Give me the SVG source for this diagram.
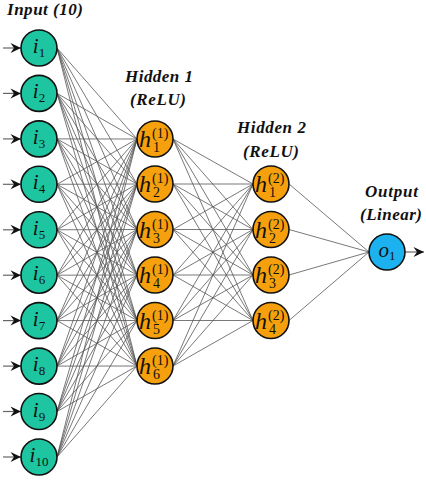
<svg xmlns="http://www.w3.org/2000/svg" width="426" height="480" viewBox="0 0 426 480">
<defs>
<style>
.edge{stroke:#555;stroke-width:0.8;fill:none}
.arr{stroke:#666;stroke-width:1.2;fill:none}
.node{stroke:#111;stroke-width:1.6}
.in{fill:#1dc6a0}
.hid{fill:#f5a00c}
.out{fill:#1cb1ef}
.lbl{font-family:"Liberation Serif",serif;font-weight:bold;font-style:italic;font-size:17px;fill:#111}
text.m{font-family:"Liberation Serif","DejaVu Serif",serif;font-style:italic;fill:#111}
text.s,tspan.s{font-family:"Liberation Serif","DejaVu Serif",serif;font-style:normal;fill:#111}
</style>
<marker id="st" viewBox="-11 -6 12 12" refX="0" refY="0" markerWidth="12" markerHeight="12" markerUnits="userSpaceOnUse" orient="auto">
<path d="M0,0 L-10.5,-5 L-7,0 L-10.5,5 Z" fill="#111"/>
</marker>
</defs>
<rect width="426" height="480" fill="#fff"/>

<g id="labels">
<text class="lbl" x="7" y="15" textLength="76">Input (10)</text>
<text class="lbl" x="125" y="82" textLength="68">Hidden 1</text>
<text class="lbl" x="130" y="105" textLength="56">(ReLU)</text>
<text class="lbl" x="237" y="133" textLength="69">Hidden 2</text>
<text class="lbl" x="243" y="157" textLength="56">(ReLU)</text>
<text class="lbl" x="365" y="197" textLength="53">Output</text>
<text class="lbl" x="360" y="220" textLength="62">(Linear)</text>
</g>

<g id="connectors">
<path class="arr" marker-end="url(#st)" d="M3,48H21"/>
<path class="arr" marker-end="url(#st)" d="M3,93.4H21"/>
<path class="arr" marker-end="url(#st)" d="M3,138.9H21"/>
<path class="arr" marker-end="url(#st)" d="M3,184.3H21"/>
<path class="arr" marker-end="url(#st)" d="M3,229.8H21"/>
<path class="arr" marker-end="url(#st)" d="M3,275.2H21"/>
<path class="arr" marker-end="url(#st)" d="M3,320.6H21"/>
<path class="arr" marker-end="url(#st)" d="M3,366.1H21"/>
<path class="arr" marker-end="url(#st)" d="M3,411.5H21"/>
<path class="arr" marker-end="url(#st)" d="M3,457H21"/>
<path class="arr" marker-end="url(#st)" d="M405,252H424"/>
<path class="edge" d="
M57,48L137,139M57,48L137,184M57,48L137,229.5M57,48L137,275M57,48L137,320.5M57,48L137,366
M57,93.4L137,139M57,93.4L137,184M57,93.4L137,229.5M57,93.4L137,275M57,93.4L137,320.5M57,93.4L137,366
M57,138.9L137,139M57,138.9L137,184M57,138.9L137,229.5M57,138.9L137,275M57,138.9L137,320.5M57,138.9L137,366
M57,184.3L137,139M57,184.3L137,184M57,184.3L137,229.5M57,184.3L137,275M57,184.3L137,320.5M57,184.3L137,366
M57,229.8L137,139M57,229.8L137,184M57,229.8L137,229.5M57,229.8L137,275M57,229.8L137,320.5M57,229.8L137,366
M57,275.2L137,139M57,275.2L137,184M57,275.2L137,229.5M57,275.2L137,275M57,275.2L137,320.5M57,275.2L137,366
M57,320.6L137,139M57,320.6L137,184M57,320.6L137,229.5M57,320.6L137,275M57,320.6L137,320.5M57,320.6L137,366
M57,366.1L137,139M57,366.1L137,184M57,366.1L137,229.5M57,366.1L137,275M57,366.1L137,320.5M57,366.1L137,366
M57,411.5L137,139M57,411.5L137,184M57,411.5L137,229.5M57,411.5L137,275M57,411.5L137,320.5M57,411.5L137,366
M57,457L137,139M57,457L137,184M57,457L137,229.5M57,457L137,275M57,457L137,320.5M57,457L137,366
M173,139L253,184M173,139L253,229.5M173,139L253,275M173,139L253,320.5
M173,184L253,184M173,184L253,229.5M173,184L253,275M173,184L253,320.5
M173,229.5L253,184M173,229.5L253,229.5M173,229.5L253,275M173,229.5L253,320.5
M173,275L253,184M173,275L253,229.5M173,275L253,275M173,275L253,320.5
M173,320.5L253,184M173,320.5L253,229.5M173,320.5L253,275M173,320.5L253,320.5
M173,366L253,184M173,366L253,229.5M173,366L253,275M173,366L253,320.5
M289,184L369,252M289,229.5L369,252M289,275L369,252M289,320.5L369,252"/>
</g>

<g id="i1"><circle class="node in" cx="39" cy="48" r="18"/><text class="m" x="39" y="53" font-size="21" text-anchor="middle">i<tspan class="s" font-size="13" dy="4">1</tspan></text></g>
<g id="i2"><circle class="node in" cx="39" cy="93.4" r="18"/><text class="m" x="39" y="98.4" font-size="21" text-anchor="middle">i<tspan class="s" font-size="13" dy="4">2</tspan></text></g>
<g id="i3"><circle class="node in" cx="39" cy="138.9" r="18"/><text class="m" x="39" y="143.9" font-size="21" text-anchor="middle">i<tspan class="s" font-size="13" dy="4">3</tspan></text></g>
<g id="i4"><circle class="node in" cx="39" cy="184.3" r="18"/><text class="m" x="39" y="189.3" font-size="21" text-anchor="middle">i<tspan class="s" font-size="13" dy="4">4</tspan></text></g>
<g id="i5"><circle class="node in" cx="39" cy="229.8" r="18"/><text class="m" x="39" y="234.8" font-size="21" text-anchor="middle">i<tspan class="s" font-size="13" dy="4">5</tspan></text></g>
<g id="i6"><circle class="node in" cx="39" cy="275.2" r="18"/><text class="m" x="39" y="280.2" font-size="21" text-anchor="middle">i<tspan class="s" font-size="13" dy="4">6</tspan></text></g>
<g id="i7"><circle class="node in" cx="39" cy="320.6" r="18"/><text class="m" x="39" y="325.6" font-size="21" text-anchor="middle">i<tspan class="s" font-size="13" dy="4">7</tspan></text></g>
<g id="i8"><circle class="node in" cx="39" cy="366.1" r="18"/><text class="m" x="39" y="371.1" font-size="21" text-anchor="middle">i<tspan class="s" font-size="13" dy="4">8</tspan></text></g>
<g id="i9"><circle class="node in" cx="39" cy="411.5" r="18"/><text class="m" x="39" y="416.5" font-size="21" text-anchor="middle">i<tspan class="s" font-size="13" dy="4">9</tspan></text></g>
<g id="i10"><circle class="node in" cx="39" cy="457" r="18"/><text class="m" x="39" y="462" font-size="21" text-anchor="middle">i<tspan class="s" font-size="13" dy="4">10</tspan></text></g>

<g id="h1_1"><circle class="node hid" cx="155" cy="139" r="18"/><text class="m" x="139" y="147" font-size="24">h</text><text class="s" x="152" y="138" font-size="14">(1)</text><text class="s" x="153" y="152" font-size="14">1</text></g>
<g id="h1_2"><circle class="node hid" cx="155" cy="184" r="18"/><text class="m" x="139" y="192" font-size="24">h</text><text class="s" x="152" y="183" font-size="14">(1)</text><text class="s" x="153" y="197" font-size="14">2</text></g>
<g id="h1_3"><circle class="node hid" cx="155" cy="229.5" r="18"/><text class="m" x="139" y="237.5" font-size="24">h</text><text class="s" x="152" y="228.5" font-size="14">(1)</text><text class="s" x="153" y="242.5" font-size="14">3</text></g>
<g id="h1_4"><circle class="node hid" cx="155" cy="275" r="18"/><text class="m" x="139" y="283" font-size="24">h</text><text class="s" x="152" y="274" font-size="14">(1)</text><text class="s" x="153" y="288" font-size="14">4</text></g>
<g id="h1_5"><circle class="node hid" cx="155" cy="320.5" r="18"/><text class="m" x="139" y="328.5" font-size="24">h</text><text class="s" x="152" y="319.5" font-size="14">(1)</text><text class="s" x="153" y="333.5" font-size="14">5</text></g>
<g id="h1_6"><circle class="node hid" cx="155" cy="366" r="18"/><text class="m" x="139" y="374" font-size="24">h</text><text class="s" x="152" y="365" font-size="14">(1)</text><text class="s" x="153" y="379" font-size="14">6</text></g>

<g id="h2_1"><circle class="node hid" cx="271" cy="184" r="18"/><text class="m" x="255" y="192" font-size="24">h</text><text class="s" x="268" y="183" font-size="14">(2)</text><text class="s" x="269" y="197" font-size="14">1</text></g>
<g id="h2_2"><circle class="node hid" cx="271" cy="229.5" r="18"/><text class="m" x="255" y="237.5" font-size="24">h</text><text class="s" x="268" y="228.5" font-size="14">(2)</text><text class="s" x="269" y="242.5" font-size="14">2</text></g>
<g id="h2_3"><circle class="node hid" cx="271" cy="275" r="18"/><text class="m" x="255" y="283" font-size="24">h</text><text class="s" x="268" y="274" font-size="14">(2)</text><text class="s" x="269" y="288" font-size="14">3</text></g>
<g id="h2_4"><circle class="node hid" cx="271" cy="320.5" r="18"/><text class="m" x="255" y="328.5" font-size="24">h</text><text class="s" x="268" y="319.5" font-size="14">(2)</text><text class="s" x="269" y="333.5" font-size="14">4</text></g>

<g id="o1"><circle class="node out" cx="387" cy="252" r="18"/><text class="m" x="387" y="257" font-size="21" text-anchor="middle">o<tspan class="s" font-size="13" dy="3">1</tspan></text></g>
</svg>
